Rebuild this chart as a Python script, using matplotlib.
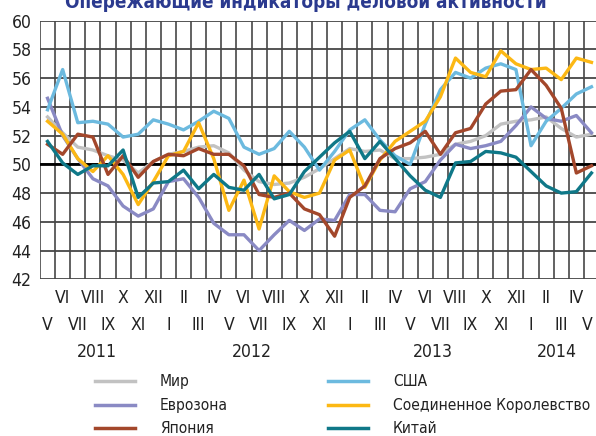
import os
import matplotlib
matplotlib.use("Agg")
import matplotlib.pyplot as plt
from matplotlib import font_manager
from matplotlib.font_manager import FontProperties
from matplotlib.lines import Line2D


def pick_narrow(bold):
    # look for a narrow / condensed face that has Cyrillic (Liberation, Noto, DejaVu, Open Sans, Roboto)
    best = None
    for f in font_manager.fontManager.ttflist:
        key = (f.name + " " + os.path.basename(f.fname)).lower()
        st = f.stretch
        narrow = ("narrow" in key or "condensed" in key
                  or st in ("condensed", "semi-condensed", "extra-condensed")
                  or (isinstance(st, int) and st < 500))
        if not narrow or f.style != "normal" or "mono" in key:
            continue
        w = f.weight if isinstance(f.weight, int) else {"bold": 700, "normal": 400, "regular": 400}.get(f.weight, 400)
        if (w >= 600) != bold or (not bold and w < 350):
            continue
        if "extra" in key or "ultra" in key or "black" in key or "semibold" in key:
            continue
        rank = 0 if "narrow" in key else (1 if "semi" not in key else 2)
        if not any(n in key for n in ("liberation", "noto sans", "notosans", "dejavu", "open", "roboto")):
            continue
        if "cjk" in key:
            continue
        if best is None or rank < best[0]:
            best = (rank, f.fname)
    if best:
        return FontProperties(fname=best[1])
    return FontProperties(family="Liberation Sans", weight="bold" if bold else "normal")


fp = pick_narrow(False)
fpb = pick_narrow(True)

months = ["V", "VI", "VII", "VIII", "IX", "X", "XI", "XII",
          "I", "II", "III", "IV", "V", "VI", "VII", "VIII", "IX", "X", "XI", "XII",
          "I", "II", "III", "IV", "V", "VI", "VII", "VIII", "IX", "X", "XI", "XII",
          "I", "II", "III", "IV", "V"]
years = ["2011", "2012", "2013", "2014"]
year_pos = [3.3, 13.5, 25.5, 33.7]

world = [53.3, 52.2, 51.2, 51.0, 50.6, 50.3, 49.4, 50.2, 50.7, 50.9, 51.2, 51.3,
         50.8, 49.6, 48.8, 48.6, 48.7, 49.1, 49.7, 50.4, 51.1, 50.9, 51.0, 50.4,
         50.4, 50.5, 50.7, 51.4, 51.6, 52.0, 52.8, 53.0, 53.1, 53.3, 52.5, 51.9, 52.1]
euro = [54.6, 52.0, 50.4, 49.0, 48.5, 47.1, 46.4, 46.9, 48.8, 49.0, 47.7, 45.9,
        45.1, 45.1, 44.0, 45.1, 46.1, 45.4, 46.2, 46.1, 47.9, 47.9, 46.8, 46.7,
        48.3, 48.8, 50.3, 51.4, 51.1, 51.3, 51.6, 52.7, 54.0, 53.2, 53.0, 53.4, 52.2]
japan = [51.4, 50.7, 52.1, 51.9, 49.3, 50.6, 49.1, 50.2, 50.7, 50.6, 51.1, 50.7,
         50.7, 49.9, 47.9, 47.7, 48.0, 46.9, 46.5, 45.0, 47.7, 48.5, 50.4, 51.1,
         51.5, 52.3, 50.7, 52.2, 52.5, 54.2, 55.1, 55.2, 56.6, 55.5, 53.9, 49.4, 49.9]
usa = [53.8, 56.6, 52.9, 53.0, 52.8, 51.9, 52.1, 53.1, 52.8, 52.4, 53.0, 53.7,
       53.2, 51.2, 50.7, 51.1, 52.3, 51.2, 49.6, 50.9, 52.4, 53.1, 51.7, 50.6,
       50.0, 52.8, 55.2, 56.4, 56.0, 56.7, 57.0, 56.6, 51.3, 53.0, 53.9, 54.9, 55.4]
uk = [53.0, 52.1, 50.4, 49.5, 50.6, 49.3, 47.2, 48.8, 50.6, 50.9, 52.9, 50.4,
      46.8, 48.9, 45.5, 49.2, 48.1, 47.7, 48.0, 50.3, 51.0, 48.4, 50.3, 51.6,
      52.3, 53.0, 54.7, 57.4, 56.4, 56.1, 57.9, 57.0, 56.6, 56.7, 55.9, 57.4, 57.1]
china = [51.6, 50.1, 49.3, 49.9, 49.9, 51.0, 47.7, 48.7, 48.8, 49.6, 48.3, 49.3,
         48.4, 48.2, 49.3, 47.6, 47.9, 49.5, 50.5, 51.5, 52.3, 50.4, 51.6, 50.4,
         49.2, 48.2, 47.7, 50.1, 50.2, 50.9, 50.8, 50.5, 49.5, 48.5, 48.0, 48.1, 49.4]

series = [
    ("Мир", world, "#c2c2c2"),
    ("Еврозона", euro, "#8a8ac4"),
    ("Япония", japan, "#a3472b"),
    ("США", usa, "#6cbadf"),
    ("Соединенное Королевство", uk, "#fcb814"),
    ("Китай", china, "#0f7888"),
]
title = "Опережающие индикаторы деловой активности"

fig = plt.figure(figsize=(5.96, 4.36), dpi=100)
renderer = fig.canvas.get_renderer()


def fit(text, prop, target, cap):
    t = fig.text(0, 0, text, fontproperties=prop, fontsize=10)
    w = t.get_window_extent(renderer).width
    t.remove()
    return min(cap, 10 * target / w)


s_year = fit("2011", fp, 40, 16)
s_ytick = fit("60", fp, 20, 15.5)
s_leg = fit("Соединенное Королевство", fp, 198, 15)
s_title = fit(title, fpb, 480, 19)

ax = fig.add_axes([40 / 596, 156.7 / 436, 556 / 596, 258.6 / 436])

x = list(range(len(months)))
ax.set_xlim(-0.5, 36.3)
ax.set_ylim(42, 60)

# grid
for v in range(42, 61, 2):
    ax.axhline(v, color="#474747", lw=1.3, zorder=1)
for k in range(37):
    ax.axvline(k - 0.5, color="#474747", lw=1.2, zorder=1)
ax.axhline(50, color="black", lw=2.0, zorder=2)

for name, vals, col in [series[0], series[1], series[3], series[4], series[2], series[5]]:
    ax.plot(x, vals, color=col, lw=2.4, zorder=3)

for s in ax.spines.values():
    s.set_visible(False)
ax.set_xticks([])
ax.set_yticks(range(42, 61, 2))
ax.tick_params(axis="y", length=0, pad=6, labelcolor="#222222")
for lab in ax.get_yticklabels():
    lab.set_fontproperties(fp)
    lab.set_fontsize(s_ytick)

# month labels on two rows, years below
for i, m in enumerate(months):
    yy = -0.073 if i % 2 else -0.177
    xi = min(i, 35.7)
    ax.text(xi, yy, m, transform=ax.get_xaxis_transform(), ha="center", va="center",
            fontproperties=fp, fontsize=s_year, color="#222222")
for yr, p in zip(years, year_pos):
    ax.text(p, -0.282, yr, transform=ax.get_xaxis_transform(), ha="center", va="center",
            fontproperties=fp, fontsize=s_year, color="#222222")

# legend
rows = [381, 405, 428]
cols = [(95, 135, 160), (328, 368, 393)]
for j, (name, vals, col) in enumerate(series):
    c = cols[j // 3]
    yf = 1 - rows[j % 3] / 436
    fig.add_artist(Line2D([c[0] / 596, c[1] / 596], [yf, yf], color=col, lw=2.5))
    fig.text(c[2] / 596, yf, name, ha="left", va="center", fontproperties=fp,
             fontsize=s_leg, color="#222222")

fig.text(306 / 596, 1 - 8 / 436, title, ha="center", va="baseline",
         fontproperties=fpb, fontsize=s_title, color="#2b3a8f")

fig.savefig("out.png", dpi=100)
